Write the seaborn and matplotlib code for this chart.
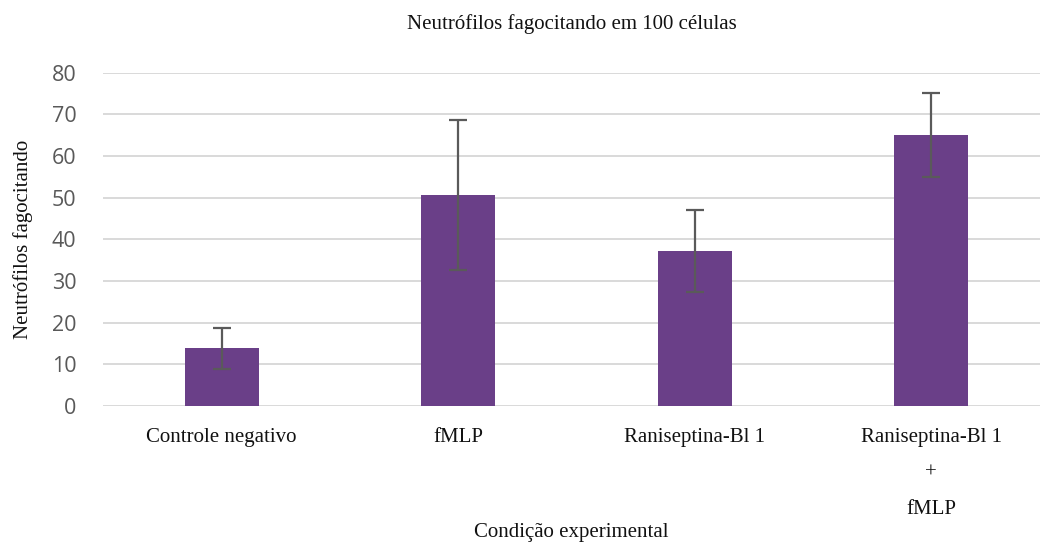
import matplotlib
matplotlib.use("Agg")
import matplotlib.pyplot as plt
import seaborn as sns
import pandas as pd

# Data
condicoes = ["Controle negativo", "fMLP", "Raniseptina-Bl 1", "Raniseptina-Bl 1\n+\nfMLP"]
medias = [13.8, 50.6, 37.2, 65.0]
desvios = [5.0, 18.0, 9.8, 10.0]
yticks = [0, 10, 20, 30, 40, 50, 60, 70, 80]

sns.set_theme(style="white")
plt.rcParams["font.family"] = ["Liberation Serif", "DejaVu Serif"]

df = pd.DataFrame({"condicao": condicoes, "media": medias})

fig = plt.figure(figsize=(10.4, 5.42), dpi=100)
ax = fig.add_axes([0.0995, 0.251, 0.9005, 0.615])

roxo = "#6a3f88"
sns.barplot(data=df, x="condicao", y="media", color=roxo, saturation=1,
            width=0.313, errorbar=None, ax=ax, zorder=3)
for p in ax.patches:
    p.set_edgecolor("none")

ax.errorbar(range(len(medias)), medias, yerr=desvios, fmt="none",
            ecolor="#5a5a5a", elinewidth=1.6, capsize=6.5, capthick=1.6, zorder=4)

ax.set_ylim(0, 80)
ax.set_xlim(-0.5, 3.46)
ax.set_yticks(yticks)
ax.yaxis.grid(True, color="#d9d9d9", linewidth=1.4, zorder=0)
ax.xaxis.grid(False)
for s in ax.spines.values():
    s.set_visible(False)

ax.tick_params(axis="y", length=0, pad=19.5, labelsize=15.5, labelcolor="#595959")
for lbl in ax.get_yticklabels():
    lbl.set_fontfamily(["Open Sans", "DejaVu Sans"])
ax.tick_params(axis="x", length=0, pad=16, labelsize=15, labelcolor="#111111")
ax.set_xticks(range(len(condicoes)))
ax.set_xticklabels(condicoes, linespacing=2.2, va="top")

ax.set_xlabel("Condição experimental", fontsize=15, color="#111111")
ax.xaxis.set_label_coords(0.5, -0.38)
ax.xaxis.label.set_va("center")

ax.set_ylabel("Neutrófilos fagocitando", fontsize=15, color="#111111")
ax.yaxis.set_label_coords(-0.086, 0.5)
ax.yaxis.label.set_va("center")

ax.set_title("Neutrófilos fagocitando em 100 células", fontsize=15, color="#111111",
             y=1.146, va="center", pad=0)

fig.savefig("out.png", dpi=100, facecolor="white")
